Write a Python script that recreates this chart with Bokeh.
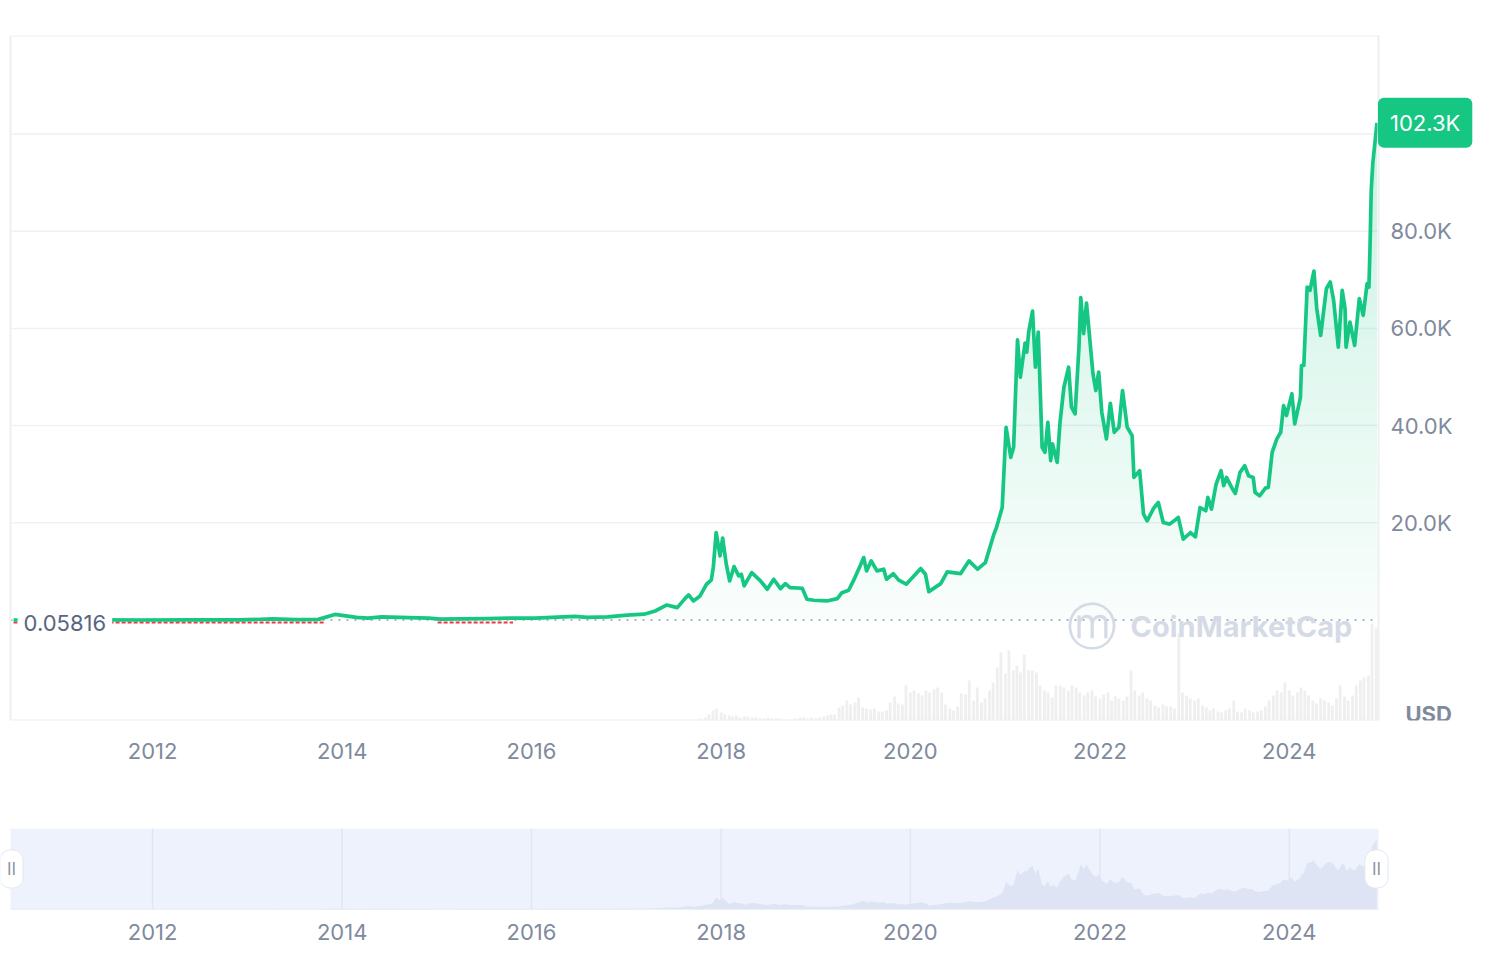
import numpy as np
import pandas as pd
from datetime import datetime
from bokeh.plotting import figure
from bokeh.models import Range1d, FixedTicker, DatetimeTickFormatter, Label
from bokeh.core.properties import value
from bokeh.layouts import column
from bokeh.embed import file_html
from bokeh.resources import INLINE

# ---------------- data ----------------
price_dates = [
    "2010-07-14", "2010-10-15", "2011-02-10", "2011-06-08", "2011-11-18", "2012-06-01", "2012-12-01",
    "2013-04-09", "2013-07-05", "2013-10-01", "2013-12-04", "2014-01-15", "2014-02-25", "2014-04-10",
    "2014-06-03", "2014-09-15", "2014-12-01", "2015-01-14", "2015-04-01", "2015-07-12", "2015-11-04",
    "2016-01-15", "2016-06-17", "2016-08-02", "2016-10-20",
    "2017-01-04", "2017-03-10", "2017-04-22", "2017-06-06", "2017-07-16", "2017-08-18", "2017-08-29",
    "2017-09-16", "2017-10-12", "2017-11-06", "2017-11-24", "2017-12-02", "2017-12-13", "2017-12-28",
    "2018-01-07", "2018-01-21", "2018-02-03", "2018-02-20", "2018-03-10", "2018-03-20", "2018-03-31",
    "2018-04-29", "2018-06-02", "2018-06-28", "2018-07-23", "2018-08-18", "2018-09-06", "2018-09-24",
    "2018-11-10", "2018-11-28", "2018-12-24",
    "2019-02-13", "2019-03-25", "2019-04-12", "2019-05-08", "2019-05-26", "2019-06-21", "2019-07-05",
    "2019-07-16", "2019-08-03", "2019-08-25", "2019-09-20", "2019-10-01", "2019-10-27", "2019-11-17",
    "2019-12-16",
    "2020-02-10", "2020-02-28", "2020-03-12", "2020-04-27", "2020-05-22", "2020-07-13", "2020-08-14",
    "2020-09-16", "2020-10-16", "2020-11-17", "2020-11-28", "2020-12-20",
    "2021-01-04", "2021-01-22", "2021-02-02", "2021-02-17", "2021-02-28", "2021-03-18", "2021-03-25",
    "2021-04-01", "2021-04-16", "2021-04-27", "2021-05-08", "2021-05-23", "2021-06-03", "2021-06-14",
    "2021-06-25", "2021-07-02", "2021-07-20", "2021-07-31", "2021-08-15", "2021-09-02", "2021-09-13",
    "2021-09-27", "2021-10-12", "2021-10-19", "2021-10-30", "2021-11-10", "2021-12-05", "2021-12-16",
    "2021-12-27",
    "2022-01-08", "2022-01-26", "2022-02-10", "2022-02-25", "2022-03-15", "2022-03-29", "2022-04-16",
    "2022-05-05", "2022-05-12", "2022-06-03", "2022-06-18", "2022-07-02", "2022-07-27", "2022-08-14",
    "2022-09-02", "2022-09-27", "2022-10-30", "2022-11-18", "2022-12-16",
    "2023-01-04", "2023-01-22", "2023-02-13", "2023-02-21", "2023-03-07", "2023-03-25", "2023-04-13",
    "2023-04-23", "2023-05-04", "2023-05-27", "2023-06-07", "2023-06-25", "2023-07-13", "2023-07-28",
    "2023-08-15", "2023-08-22", "2023-09-09", "2023-10-01", "2023-10-12", "2023-10-27", "2023-11-14",
    "2023-11-29", "2023-12-10", "2023-12-21",
    "2024-01-11", "2024-01-22", "2024-02-13", "2024-02-17", "2024-02-26", "2024-03-10", "2024-03-21",
    "2024-04-05", "2024-04-16", "2024-05-01", "2024-05-23", "2024-06-07", "2024-06-20", "2024-07-08",
    "2024-07-23", "2024-08-03", "2024-08-07", "2024-08-22", "2024-09-09", "2024-09-27", "2024-10-12",
    "2024-10-27", "2024-11-03", "2024-11-07", "2024-11-12", "2024-11-18", "2024-12-04",
]
prices = [
    0.05816, 0.1, 1.0, 30, 2.2, 6, 13,
    230, 70, 125, 1150, 850, 530, 370,
    660, 470, 380, 180, 250, 300, 400,
    380, 760, 550, 630,
    1000, 1200, 1850, 3090, 2540, 4600, 5150,
    3920, 4950, 7360, 8190, 10800, 18000, 13200,
    16850, 11490, 8040, 10990, 9070, 9420, 7010,
    9750, 8040, 6330, 8390, 6450, 7490, 6660,
    6530, 4270, 4060,
    3920, 4390, 5630, 6120, 8040, 11130, 12850,
    10100, 12170, 10100, 10450, 8390, 9550, 8190,
    7360,
    10580, 9420, 5840, 7490, 9900, 9550, 12170,
    10450, 11810, 17500, 19030, 23150,
    39650, 33470, 35530, 57670, 49960, 56970, 55120,
    59240, 63570, 52020, 59240, 35530, 34500, 40690,
    32790, 36230, 32440, 40690, 47900, 52020, 43780,
    42410, 56150, 66330, 58910, 65230, 50660, 47220,
    51000,
    42750, 37260, 44600, 38620, 39650, 47220, 39650,
    37940, 29340, 30720, 21790, 20410, 23000, 24190,
    20060, 19730, 21100, 16640, 18000,
    17110, 23150, 22480, 25220, 22820, 27980, 30720,
    27630, 29340, 26950, 26040, 30370, 31750, 29690,
    29340, 26250, 25570, 27150, 27290, 34500, 37260,
    38620, 44120, 42060,
    46530, 40350, 45830, 52370, 52370, 68520, 67830,
    71810, 64060, 58560, 68180, 69550, 65780, 56150,
    67830, 64060, 56150, 61300, 56500, 66130, 62690,
    69200, 68500, 76000, 88460, 93960, 102300,
]

# semi-monthly traded volume (billion USD), starting 2017-10-01
vol_start = "2017-10-01"
volumes_b = [
    1, 2, 3, 6, 10, 12,
    8, 6, 5, 4, 5, 3, 4, 4, 3, 3, 2, 2, 3, 2, 2, 2, 1, 1, 1, 2, 3, 3, 2, 3,
    2, 3, 4, 5, 6, 6, 13, 15, 20, 16, 18, 23, 13, 12, 11, 12, 9, 9, 10, 18, 24, 17, 16, 35,
    28, 30, 27, 25, 30, 28, 31, 33, 28, 16, 12, 10, 14, 27, 26, 40, 20, 33, 18, 22, 30, 38, 53, 68,
    47, 70, 50, 55, 48, 66, 50, 50, 48, 35, 30, 28, 23, 35, 35, 33, 30, 35, 33, 28, 25, 28, 30, 24,
    22, 26, 28, 20, 24, 22, 20, 24, 50, 30, 25, 28, 22, 20, 15, 13, 16, 14, 14, 12, 87, 28, 25, 22,
    20, 22, 15, 13, 10, 12, 9, 8, 10, 12, 20, 9, 8, 12, 10, 8, 9, 10, 14, 20, 25, 30, 28, 38,
    30, 25, 28, 33, 30, 25, 20, 17, 22, 20, 18, 15, 22, 35, 24, 20, 25, 35, 40, 43, 45, 97, 93,
]

red_starts = ["2010-07-14", "2015-01-04"]
red_ends = ["2013-10-28", "2015-10-22"]

base_price = 0.05816
base_label = "0.05816"
last_label = "102.3K"
year_ticks = [2012, 2014, 2016, 2018, 2020, 2022, 2024]
price_ticks = [20000, 40000, 60000, 80000]
price_tick_labels = ["20.0K", "40.0K", "60.0K", "80.0K"]
grid_levels = [20000, 40000, 60000, 80000, 100000]

# ---------------- derived ----------------
t = pd.to_datetime(price_dates)
y = np.array(prices, dtype=float)
vt = pd.date_range(vol_start, periods=len(volumes_b), freq="SMS")
year_ms = [pd.Timestamp(f"{yr}-01-01").value // 10**6 for yr in year_ticks]

GREEN = "#16c784"
GRAY = "#808a9d"
FONT = "Inter"
FS = "22px"

X0 = datetime(2010, 7, 2)
X1 = datetime(2024, 12, 10)
PX = (X1 - X0) / 1368.0          # time per screen pixel of the plot area
XR = (X0 - 10 * PX, X1 + 110 * PX)  # full-width frames (0..1488 px)
Y0, Y1 = -20680, 120270
shift = 2.5 * (Y1 - Y0) / 685.0


def style_xaxis(fig, standoff):
    fig.xaxis.ticker = FixedTicker(ticks=year_ms)
    fig.xaxis.formatter = DatetimeTickFormatter(years="%Y", months="%Y", days="%Y", hours="%Y")
    ax = fig.xaxis[0]
    ax.axis_line_color = None
    ax.major_tick_line_color = None
    ax.minor_tick_line_color = None
    ax.major_tick_out = 0
    ax.major_tick_in = 0
    ax.major_label_text_font = FONT
    ax.major_label_text_font_size = FS
    ax.major_label_text_color = GRAY
    ax.major_label_standoff = standoff
    fig.xgrid.visible = False
    fig.ygrid.visible = False


# main frame spans the whole width so that annotations in the margins are not clipped
p = figure(frame_width=1488, frame_height=685, x_axis_type="datetime",
           x_range=Range1d(*XR), y_range=Range1d(Y0, Y1),
           y_axis_location=None, output_backend="svg", toolbar_location=None,
           min_border_left=0, min_border_right=0, min_border_top=35, min_border_bottom=60,
           background_fill_color="white", border_fill_color="white",
           outline_line_color=None)
p.extra_y_ranges = {"vol": Range1d(0, 685), "red": Range1d(Y0 + shift, Y1 + shift)}

# horizontal grid lines only over the plot area
p.segment(x0=[X0] * len(grid_levels), y0=grid_levels, x1=[X1] * len(grid_levels), y1=grid_levels,
          line_color="#eff1f4", line_width=1.5)

# volume bars
p.vbar(x=vt, top=volumes_b, bottom=0, width=11 * 86400000, y_range_name="vol",
       fill_color="#efefef", line_color=None)

# gradient fill under the price line (banded alpha)
levels = np.arange(0, 107500, 2500)
for a, b in zip(levels[:-1], levels[1:]):
    lo = np.minimum(y, max(a, base_price))
    hi = np.minimum(y, b)
    alpha = 0.025 + 0.2 * ((a + b) / 2) / 100000
    p.varea(x=t, y1=lo, y2=hi, fill_color=GREEN, fill_alpha=alpha)

p.segment(x0=[X0], y0=[base_price], x1=[X1], y1=[base_price], line_color="#979fae",
          line_dash="2 6", line_width=1.5)

p.segment(x0=pd.to_datetime(red_starts), y0=base_price, x1=pd.to_datetime(red_ends), y1=base_price,
          y_range_name="red", line_color="#ea3943", line_width=2, line_dash="4 2")

p.line(t, y, line_color=GREEN, line_width=3.7, line_join="round")

# plot-area border
p.quad(left=[X0], right=[X1], bottom=[Y0], top=[Y1], fill_color=None,
       line_color="#eceff3", line_width=2)

# price scale labels on the right
p.text(x=[X1] * len(price_ticks), y=price_ticks, text=price_tick_labels, x_offset=12,
       text_font=value(FONT), text_font_size=FS, text_color=GRAY,
       text_align="left", text_baseline="middle")

style_xaxis(p, 22)

# annotations
p.add_layout(Label(x=t[0], y=base_price, text=base_label, x_offset=4, y_offset=-3,
                   text_font=FONT, text_font_size=FS, text_color="#58667e",
                   text_align="left", text_baseline="middle",
                   background_fill_color="white", padding=6))
p.add_layout(Label(x=X1, y=base_price, text="ⓜ", x_offset=-287, y_offset=-6,
                   text_font=FONT, text_font_size="50px", text_color="#d5dbe6",
                   text_align="center", text_baseline="middle"))
p.add_layout(Label(x=X1, y=base_price, text="CoinMarketCap", x_offset=-248, y_offset=-7,
                   text_font=FONT, text_font_size="29px", text_font_style="bold",
                   text_color="#d5dbe6", text_align="left", text_baseline="middle"))
p.add_layout(Label(x=t[-1], y=y[-1], text=last_label, x_offset=1,
                   text_font=FONT, text_font_size=FS, text_color="white",
                   text_align="left", text_baseline="middle",
                   background_fill_color=GREEN, border_radius=6, padding=12))
p.add_layout(Label(x=X1, y=Y0, text="USD", x_offset=27, y_offset=7,
                   text_font=FONT, text_font_size=FS, text_font_style="bold",
                   text_color=GRAY, text_align="left", text_baseline="middle"))

# ---------------- navigator ----------------
NY1 = 118000
n = figure(frame_width=1488, frame_height=81, x_axis_type="datetime",
           x_range=Range1d(*XR), y_range=Range1d(0, NY1),
           y_axis_location=None, output_backend="svg", toolbar_location=None,
           min_border_left=0, min_border_right=0, min_border_top=48, min_border_bottom=36,
           background_fill_color="white", border_fill_color="white", outline_line_color=None)
n.quad(left=[X0], right=[X1], bottom=[0], top=[NY1], fill_color="#eef2fd", line_color=None)
n.segment(x0=year_ms, y0=0, x1=year_ms, y1=NY1, line_color="#e1e6f3", line_width=1.5)
n.varea(x=t, y1=0, y2=y, fill_color="#dfe4f5")
n.segment(x0=[X0], y0=[0], x1=[X1], y1=[0], line_color="#e2e6f1", line_width=1.5)
style_xaxis(n, 14)
for hx, off in ((X0, 1), (X1, -2)):
    n.add_layout(Label(x=hx, y=NY1 / 2, text="II", x_offset=off,
                       text_font=FONT, text_font_size="17px", text_color="#8f97a8",
                       text_align="center", text_baseline="middle",
                       background_fill_color="white", border_line_color="#e6e9ef",
                       border_radius=10, padding=(7, 9)))

layout = column(p, n)
open("out.html", "w").write(file_html(layout, INLINE))
